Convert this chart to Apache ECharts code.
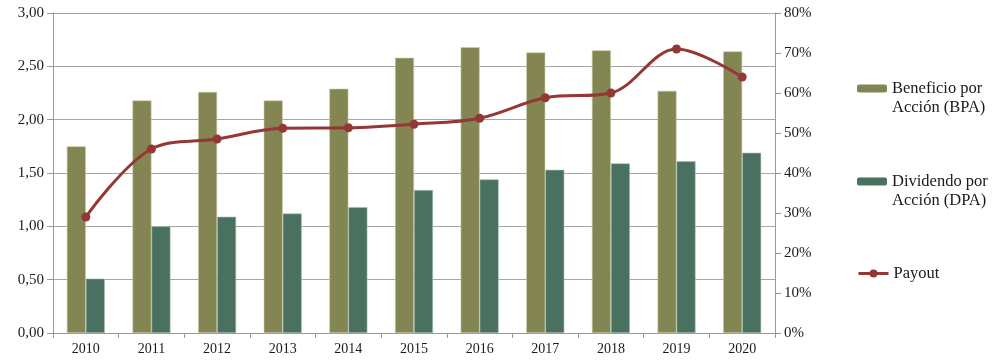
<!DOCTYPE html>
<html><head><meta charset="utf-8">
<script src="https://cdn.jsdelivr.net/npm/echarts@6/dist/echarts.min.js"></script>
<style>html,body{margin:0;padding:0;background:#fff}#c{width:1002px;height:364px}</style>
</head><body><div id="c"></div>
<script>
const years = ['2010','2011','2012','2013','2014','2015','2016','2017','2018','2019','2020'];
const bpa = [1.75,2.18,2.26,2.18,2.29,2.58,2.68,2.63,2.65,2.27,2.64];
const dpa = [0.51,1.00,1.09,1.12,1.18,1.34,1.44,1.53,1.59,1.61,1.69];
const payout = [29,46,48.5,51.2,51.3,52.2,53.7,58.8,60,71,64];
const nameBPA = 'Beneficio por\nAcción (BPA)';
const nameDPA = 'Dividendo por\nAcción (DPA)';
const namePay = 'Payout';
const font = 'Liberation Serif';
const chart = echarts.init(document.getElementById('c'));
const lg = (name, top, twoLine) => ({
  orient:'vertical', left:857, top:top, itemWidth:30, itemHeight: twoLine ? 8 : 10, itemGap:0, padding:0,
  data:[name],
  itemStyle:{borderWidth:0},
  lineStyle: twoLine ? {} : {width:3},
  formatter: n => twoLine ? '\n' + n : n,
  textStyle:{fontFamily:font, fontSize:16.5, color:'#1a1a1a', lineHeight:19}
});
chart.setOption({
  animation:false,
  textStyle:{fontFamily:font},
  grid:{left:53, right:227, top:13, bottom:31},
  legend:[lg(nameBPA,60,true), lg(nameDPA,153,true), lg(namePay,264,false)],
  xAxis:{type:'category', data:years,
    axisLine:{lineStyle:{color:'#999'}},
    axisTick:{show:true, length:5, lineStyle:{color:'#999'}},
    axisLabel:{fontFamily:font, fontSize:14, color:'#1a1a1a', margin:9}},
  yAxis:[
    {type:'value', min:0, max:3, interval:0.5,
     axisLine:{show:true, lineStyle:{color:'#999'}},
     axisTick:{show:true, length:6, lineStyle:{color:'#999'}},
     splitLine:{lineStyle:{color:'#a6a6a6'}},
     axisLabel:{fontFamily:font, fontSize:15, color:'#1a1a1a', margin:9,
       formatter:v=>v.toFixed(2).replace('.',',')}},
    {type:'value', min:0, max:80, interval:10, position:'right',
     axisLine:{show:true, lineStyle:{color:'#999'}},
     axisTick:{show:true, length:6, lineStyle:{color:'#999'}},
     splitLine:{show:false},
     axisLabel:{fontFamily:font, fontSize:15, color:'#1a1a1a', margin:9,
       formatter:v=>v+'%'}}
  ],
  series:[
    {name:nameBPA, type:'bar', data:bpa, barWidth:19, barGap:'0%',
     itemStyle:{color:'#838553', borderColor:'#c9cbab', borderWidth:0.6}},
    {name:nameDPA, type:'bar', data:dpa, barWidth:19, barGap:'0%',
     itemStyle:{color:'#4a7160', borderColor:'#a9bfb2', borderWidth:0.6}},
    {name:namePay, type:'line', yAxisIndex:1, data:payout, smooth:0.35,
     symbol:'circle', symbolSize:9,
     lineStyle:{color:'#953735', width:3},
     itemStyle:{color:'#953735'}}
  ]
});
</script></body></html>
